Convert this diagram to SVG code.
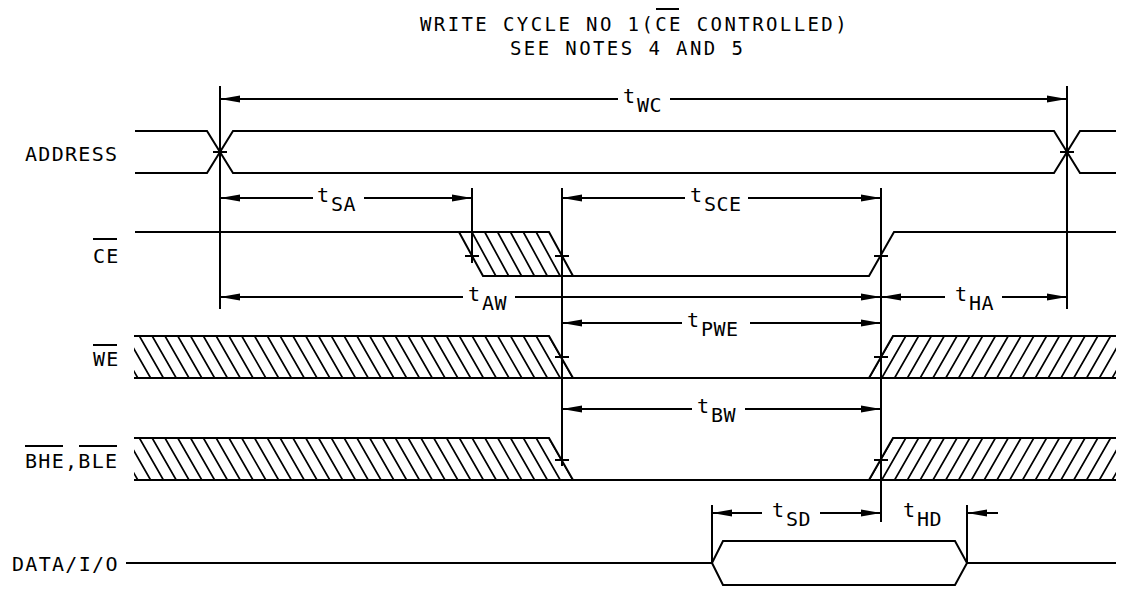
<svg xmlns="http://www.w3.org/2000/svg" width="1122" height="592" viewBox="0 0 1122 592">
<style>
.w{fill:none;stroke:#000;stroke-width:2;stroke-linejoin:miter}
.h{fill:none;stroke:#000;stroke-width:1.7}
.d{fill:none;stroke:#000;stroke-width:2}
.ds{marker-start:url(#ah)}
.de{marker-end:url(#ah)}
.lbl{font-family:"DejaVu Sans Mono","Liberation Mono",monospace;font-size:20px;letter-spacing:1.3px;fill:#000}
.tl{font-family:"DejaVu Sans Mono","Liberation Mono",monospace;font-size:20px;letter-spacing:0.5px;fill:#000}
.ttl{font-family:"DejaVu Sans Mono","Liberation Mono",monospace;font-size:19px;letter-spacing:2.4px;fill:#000}
</style>
<defs>
<marker id="ah" viewBox="0 0 20 8" refX="20" refY="4" markerWidth="20" markerHeight="8" markerUnits="userSpaceOnUse" orient="auto-start-reverse">
<path d="M0,0.5 L20,4 L0,7.5 z" fill="#000"/>
</marker>
<clipPath id="cWL"><polygon points="134,336 549,336 573,378 134,378"/></clipPath>
<clipPath id="cBL"><polygon points="134,438 549,438 573,480 134,480"/></clipPath>
<clipPath id="cWR"><polygon points="893,336 1116,336 1116,378 869,378"/></clipPath>
<clipPath id="cBR"><polygon points="893,438 1116,438 1116,480 869,480"/></clipPath>
</defs>
<rect width="1122" height="592" fill="#fff"/>

<g id="title">
<text class="ttl" x="420" y="31">WRITE CYCLE NO 1(CE CONTROLLED)</text>
<line class="d" x1="656" y1="9" x2="679" y2="9"/>
<text class="ttl" x="510" y="55">SEE NOTES 4 AND 5</text>
</g>

<g id="address">
<text class="lbl" x="25" y="161">ADDRESS</text>
<path class="w" d="M135,131 H207 L233,173 H1054 L1080,131 H1116 M135,173 H207 L233,131 H1054 L1080,173 H1116"/>
<path class="d" d="M213,152 H227 M1060,152 H1074"/>
</g>

<g id="ce">
<text class="lbl" x="93" y="263">CE</text>
<line class="d" x1="93" y1="239" x2="117" y2="239"/>
<path class="w" d="M135,232 H549 L573,276 M459,232 L483,276 H869 L894,232 H1116"/>
<path class="h" d="M471.86,232 l24,44 M484.71,232 l24,44 M497.57,232 l24,44 M510.43,232 l24,44 M523.29,232 l24,44 M536.14,232 l24,44"/>
<path class="d" d="M465,256 H479 M555,256 H569 M874,256 H888"/>
</g>

<g id="we">
<text class="lbl" x="93" y="366">WE</text>
<line class="d" x1="93" y1="345" x2="117" y2="345"/>
<path class="w" d="M134,336 H549 L573,378 M134,378 H1116 M869,378 L893,336 H1116"/>
<path class="h" clip-path="url(#cWL)" d="M549,336l24,42m-36.8,-42l24,42m-36.8,-42l24,42m-36.8,-42l24,42m-36.8,-42l24,42m-36.8,-42l24,42m-36.8,-42l24,42m-36.8,-42l24,42m-36.8,-42l24,42m-36.8,-42l24,42m-36.8,-42l24,42m-36.8,-42l24,42m-36.8,-42l24,42m-36.8,-42l24,42m-36.8,-42l24,42m-36.8,-42l24,42m-36.8,-42l24,42m-36.8,-42l24,42m-36.8,-42l24,42m-36.8,-42l24,42m-36.8,-42l24,42m-36.8,-42l24,42m-36.8,-42l24,42m-36.8,-42l24,42m-36.8,-42l24,42m-36.8,-42l24,42m-36.8,-42l24,42m-36.8,-42l24,42m-36.8,-42l24,42m-36.8,-42l24,42m-36.8,-42l24,42m-36.8,-42l24,42m-36.8,-42l24,42m-36.8,-42l24,42m-36.8,-42l24,42"/>
<path class="h" clip-path="url(#cWR)" d="M893,336l-24,42m36.8,-42l-24,42m36.8,-42l-24,42m36.8,-42l-24,42m36.8,-42l-24,42m36.8,-42l-24,42m36.8,-42l-24,42m36.8,-42l-24,42m36.8,-42l-24,42m36.8,-42l-24,42m36.8,-42l-24,42m36.8,-42l-24,42m36.8,-42l-24,42m36.8,-42l-24,42m36.8,-42l-24,42m36.8,-42l-24,42m36.8,-42l-24,42m36.8,-42l-24,42m36.8,-42l-24,42m36.8,-42l-24,42"/>
<path class="d" d="M555,357 H569 M874,357 H888"/>
</g>

<g id="bhe-ble">
<text class="lbl" x="25" y="468">BHE,BLE</text>
<path class="d" d="M25,446 H63 M79,446 H117"/>
<path class="w" d="M134,438 H549 L573,480 M134,480 H1116 M869,480 L893,438 H1116"/>
<path class="h" clip-path="url(#cBL)" d="M549,438l24,42m-36.8,-42l24,42m-36.8,-42l24,42m-36.8,-42l24,42m-36.8,-42l24,42m-36.8,-42l24,42m-36.8,-42l24,42m-36.8,-42l24,42m-36.8,-42l24,42m-36.8,-42l24,42m-36.8,-42l24,42m-36.8,-42l24,42m-36.8,-42l24,42m-36.8,-42l24,42m-36.8,-42l24,42m-36.8,-42l24,42m-36.8,-42l24,42m-36.8,-42l24,42m-36.8,-42l24,42m-36.8,-42l24,42m-36.8,-42l24,42m-36.8,-42l24,42m-36.8,-42l24,42m-36.8,-42l24,42m-36.8,-42l24,42m-36.8,-42l24,42m-36.8,-42l24,42m-36.8,-42l24,42m-36.8,-42l24,42m-36.8,-42l24,42m-36.8,-42l24,42m-36.8,-42l24,42m-36.8,-42l24,42m-36.8,-42l24,42m-36.8,-42l24,42"/>
<path class="h" clip-path="url(#cBR)" d="M893,438l-24,42m36.8,-42l-24,42m36.8,-42l-24,42m36.8,-42l-24,42m36.8,-42l-24,42m36.8,-42l-24,42m36.8,-42l-24,42m36.8,-42l-24,42m36.8,-42l-24,42m36.8,-42l-24,42m36.8,-42l-24,42m36.8,-42l-24,42m36.8,-42l-24,42m36.8,-42l-24,42m36.8,-42l-24,42m36.8,-42l-24,42m36.8,-42l-24,42m36.8,-42l-24,42m36.8,-42l-24,42m36.8,-42l-24,42"/>
<path class="d" d="M555,460 H569 M874,460 H888"/>
</g>

<g id="data-io">
<text class="lbl" x="12" y="571">DATA/I/O</text>
<path class="w" d="M126,563 H712 L723,541 H955 L967,563 L955,585 H723 L712,563 M967,563 H1116"/>
</g>

<g id="connectors">
<path class="d" d="M220,86 V309 M1067,86 V309 M472,188 V263 M562,188 V466 M881,188 V522 M712,505 V563 M967,505 V563"/>
<line class="d ds" x1="220" y1="99" x2="618" y2="99"/>
<line class="d de" x1="670" y1="99" x2="1067" y2="99"/>
<line class="d ds" x1="220" y1="198" x2="313" y2="198"/>
<line class="d de" x1="364" y1="198" x2="472" y2="198"/>
<line class="d ds" x1="562" y1="198" x2="685" y2="198"/>
<line class="d de" x1="748" y1="198" x2="881" y2="198"/>
<line class="d ds" x1="220" y1="297" x2="463" y2="297"/>
<line class="d de" x1="515" y1="297" x2="881" y2="297"/>
<line class="d ds" x1="881" y1="297" x2="945" y2="297"/>
<line class="d de" x1="1002" y1="297" x2="1067" y2="297"/>
<line class="d ds" x1="562" y1="323" x2="682" y2="323"/>
<line class="d de" x1="750" y1="323" x2="881" y2="323"/>
<line class="d ds" x1="562" y1="409" x2="692" y2="409"/>
<line class="d de" x1="745" y1="409" x2="881" y2="409"/>
<line class="d ds" x1="712" y1="513" x2="762" y2="513"/>
<line class="d de" x1="820" y1="513" x2="881" y2="513"/>
<line class="d ds" x1="967" y1="513" x2="998" y2="513"/>
</g>

<g id="timing-labels">
<text class="tl" x="623" y="103">t<tspan x="637" dy="9">WC</tspan></text>
<text class="tl" x="317" y="202">t<tspan x="331" dy="9">SA</tspan></text>
<text class="tl" x="690" y="202">t<tspan x="704" dy="9">SCE</tspan></text>
<text class="tl" x="468" y="301">t<tspan x="482" dy="9">AW</tspan></text>
<text class="tl" x="955" y="301">t<tspan x="969" dy="9">HA</tspan></text>
<text class="tl" x="687" y="327">t<tspan x="701" dy="9">PWE</tspan></text>
<text class="tl" x="697" y="413">t<tspan x="711" dy="9">BW</tspan></text>
<text class="tl" x="772" y="517">t<tspan x="786" dy="9">SD</tspan></text>
<text class="tl" x="903" y="517">t<tspan x="917" dy="9">HD</tspan></text>
</g>
</svg>
